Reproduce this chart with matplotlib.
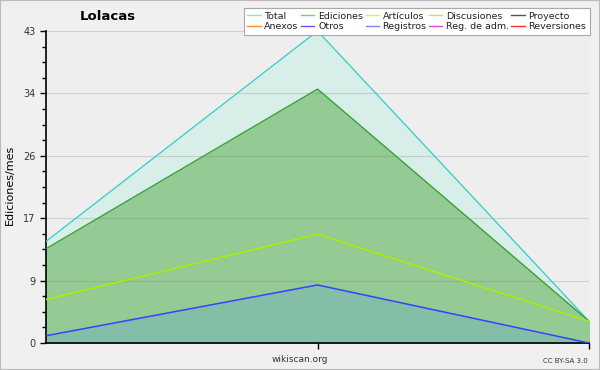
import numpy as np
import matplotlib
matplotlib.use('Agg')
import matplotlib.pyplot as plt
from matplotlib.lines import Line2D

# datos (3 meses)
meses = [0, 1, 2]
total = [14, 43, 3]
ediciones = [13, 35, 3]
articulos = [6, 15, 3]
registros = [1, 8, 0]

leyenda_nombres = ['Total', 'Anexos', 'Ediciones', 'Otros', 'Artículos', 'Registros',
                   'Discusiones', 'Reg. de adm.', 'Proyecto', 'Reversiones']
leyenda_colores = ['#88e0e0', '#ff8844', '#77cc77', '#8844ee', '#ccff33', '#7788ff',
                   '#ffcc33', '#dd44ee', '#555555', '#ff3333']

plt.rcParams['font.family'] = 'DejaVu Sans'

fig = plt.figure(figsize=(6, 3.7), dpi=100, facecolor='#f0f0f0')
ax = fig.add_axes([46/600, 27/370, 543/600, 312/370])
ax.set_facecolor('#eeeeee')

ax.fill_between(meses, total, color='#d8eee8', zorder=1)
ax.plot(meses, total, color='#33cccc', lw=0.9, zorder=3)
ax.fill_between(meses, ediciones, color='#94ca94', zorder=1.1)
ax.plot(meses, ediciones, color='#33a033', lw=0.9, zorder=3)
ax.plot(meses, articulos, color='#aaee00', lw=1.1, zorder=3)
ax.fill_between(meses, registros, color='#84bea6', zorder=1.2)
ax.plot(meses, registros, color='#3344ff', lw=1.1, zorder=3)

ax.set_xlim(0, 2)
ax.set_ylim(0, 43)
ytk = np.linspace(0, 43, 6)
ax.set_yticks(ytk)
ax.set_yticklabels([str(int(round(v))) for v in ytk], fontsize=7, color='#333333')
ax.set_yticks(np.linspace(0, 43, 21), minor=True)
ax.set_xticks([1, 2])
ax.set_xticklabels(['', ''])
ax.tick_params(axis='both', which='both', direction='out', length=4, width=1)
ax.tick_params(axis='y', which='minor', length=3)
ax.grid(axis='y', color='#777777', alpha=0.25, lw=0.8, zorder=2)
for s in ['top', 'right']:
    ax.spines[s].set_visible(False)
ax.spines['left'].set_linewidth(1.2)
ax.spines['bottom'].set_linewidth(1.2)

fig.text(10/600, 0.5, 'Ediciones/mes', rotation=90, fontsize=8, va='center', ha='center')
fig.text(80/600, 1 - 16/370, 'Lolacas', fontsize=9.5, fontweight='bold', va='center')
fig.text(300/600, 1 - 360/370, 'wikiscan.org', fontsize=6.5, color='#333333', ha='center', va='center')
fig.text(588/600, 1 - 361/370, 'CC BY-SA 3.0', fontsize=5, color='#333333', ha='right', va='center')

handles = [Line2D([0], [0], color=c, lw=1) for c in leyenda_colores]
leg = fig.legend(handles, leyenda_nombres, ncol=5, loc='upper right',
                 bbox_to_anchor=(590/600, 1 - 8/370), fontsize=6.8, frameon=True,
                 fancybox=False, edgecolor='#aaaaaa', framealpha=1,
                 handlelength=1.4, handletextpad=0.4, columnspacing=0.25,
                 labelspacing=0.15, borderpad=0.4, borderaxespad=0)
leg.get_frame().set_linewidth(0.8)
for t in leg.get_texts():
    t.set_color('#222222')

# borde exterior
fig.patches.append(plt.Rectangle((0, 0), 1, 1, transform=fig.transFigure, fill=False,
                                 edgecolor='#bbbbbb', lw=1.5))

fig.savefig('out.png', dpi=100, facecolor=fig.get_facecolor())
